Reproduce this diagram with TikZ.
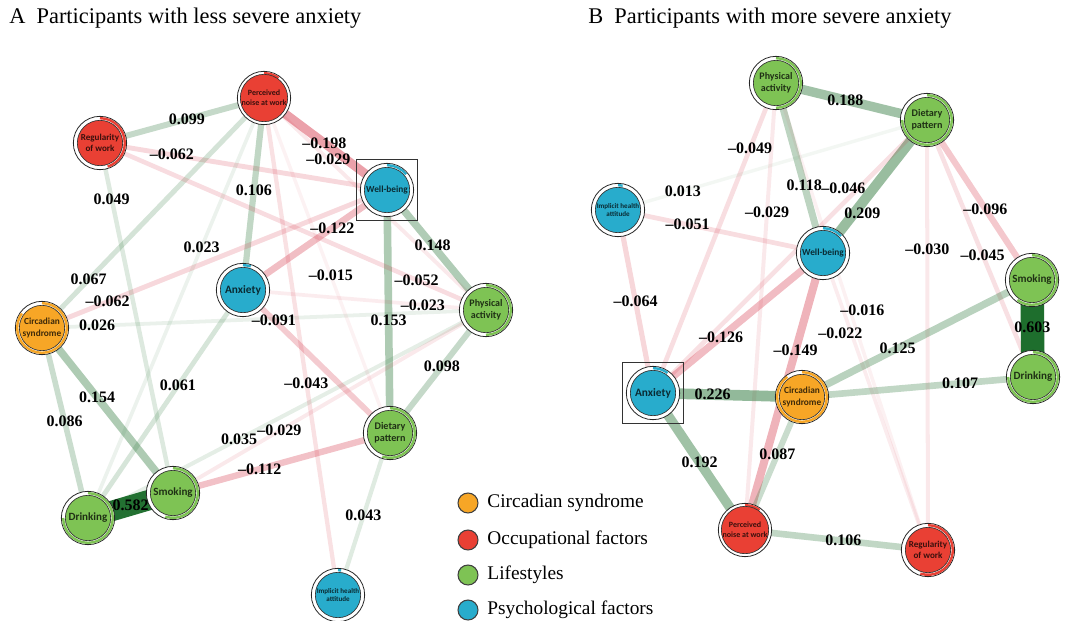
\documentclass[tikz,border=0pt]{standalone}
\usepackage{fontspec}
\setmainfont{Liberation Serif}
\newfontfamily\nodefont{Carlito}
\usetikzlibrary{positioning}

\definecolor{orangeC}{RGB}{247,166,38}
\definecolor{redC}{RGB}{233,64,52}
\definecolor{greenC}{RGB}{126,195,84}
\definecolor{blueC}{RGB}{40,172,204}
\definecolor{edgepos}{RGB}{30,110,45}
\definecolor{edgeneg}{RGB}{210,40,60}

\pgfdeclarelayer{edges}
\pgfsetlayers{edges,main}

\tikzset{
  ring/.style={circle, draw=black!85, line width=0.6pt, fill=white, minimum size=40pt, inner sep=0pt},
  core/.style={circle, draw=black!80, line width=0.5pt, minimum size=34pt, inner sep=0pt, align=center, text=black, text opacity=0.75},
  fsize/.style={font=\nodefont\bfseries\fontsize{#1}{\dimexpr #1pt*6/5\relax}\selectfont},
  elabel/.style={font=\bfseries\fontsize{12}{12}\selectfont, inner sep=0pt},
  focusbox/.style={draw=black!80, line width=1pt, minimum size=46pt, inner sep=0pt},
  legdot/.style={circle, draw=black!75, line width=0.8pt, minimum size=15pt, inner sep=0pt},
  legtext/.style={font=\fontsize{14.5}{14.5}\selectfont, inner sep=0pt},
  paneltitle/.style={font=\fontsize{16.8}{17}\selectfont, inner sep=0pt, anchor=west},
}

% node: name, position, colour, predictability, text
\newcommand{\netnode}[6][]{%
  \node[ring] (#2) at (#3) {};
  \draw[line width=1.8pt, draw=#4] (#2.center) ++(-90:18.6pt) arc[start angle=-90, delta angle=360*#5, radius=18.6pt];
  \node[core, fill=#4, fsize=7.5, #1] (#2-in) at (#2.center) {#6};
}

% edge: from, to, weight, label position
\newcommand{\edgescale}{30}
\newcommand{\netedge}[5][]{%
  \pgfmathsetmacro{\eabs}{abs(#4)}%
  \pgfmathsetmacro{\eop}{min(1,(\eabs/0.6)^0.75)}%
  \pgfmathsetmacro{\ewid}{0.75*(3+\edgescale*\eabs)}%
  \pgfmathtruncatemacro{\esign}{(#4>0)}%
  \ifnum\esign=1 \def\ecol{edgepos}\def\esym{}\else\def\ecol{edgeneg}\def\esym{–}\fi
  \begin{pgfonlayer}{edges}
    \draw[line width=\ewid pt, draw=\ecol, draw opacity=\eop] (#2.center) -- (#3.center);
  \end{pgfonlayer}
  \path (#2.center) -- (#3.center) node[elabel, pos=#5, #1] (#2#3) {\esym\pgfmathprintnumber[fixed, fixed zerofill, precision=3, assume math mode=true]{\eabs}};
}

\begin{document}
\begin{tikzpicture}[x=0.75pt,y=0.75pt,yscale=-1,xscale=1]
\useasboundingbox (0,0) rectangle (1068,621);

%Titles
\node[paneltitle] (titleA) at (9,18) {A\ \ Participants with less severe anxiety};
\node[paneltitle] (titleB) at (588,18) {B\ \ Participants with more severe anxiety};

%Panel A: nodes
\netnode[fsize=6]{PNa}{264,98}{redC}{0.1}{Perceived\\noise at work}
\netnode[fsize=6.8]{RWa}{100,143}{redC}{0.45}{Regularity\\of work}
\netnode[fsize=7]{WBa}{387,190}{blueC}{0.14}{Well-being}
\netnode[fsize=8.5]{AXa}{243,290}{blueC}{0.05}{Anxiety}
\netnode[fsize=7.5]{PAa}{486,310}{greenC}{0.5}{Physical\\activity}
\netnode[fsize=7]{CSa}{42,328}{orangeC}{0.85}{Circadian\\syndrome}
\netnode[fsize=7.6]{DPa}{390,433}{greenC}{0.55}{Dietary\\pattern}
\netnode[fsize=8.3]{SMa}{173,493}{greenC}{0.55}{Smoking}
\netnode[fsize=8.3]{DRa}{88,518}{greenC}{0.75}{Drinking}
\netnode[fsize=5.3]{IHa}{338,595}{blueC}{0.02}{Implicit health\\attitude}
\node[focusbox] (WBabox) at (WBa) {};

%Panel A: edges
\netedge{PNa}{RWa}{0.099}{0.47}
\netedge{RWa}{WBa}{-0.062}{0.25}
\netedge{RWa}{SMa}{0.049}{0.16}
\netedge{PNa}{WBa}{-0.198}{0.49}
\netedge{PNa}{PAa}{-0.029}{0.29}
\netedge{PNa}{AXa}{0.106}{0.48}
\netedge{PNa}{CSa}{0.067}{0.79}
\netedge{PNa}{DRa}{0.023}{0.355}
\netedge{WBa}{PAa}{0.148}{0.46}
\netedge{WBa}{DPa}{0.153}{0.535}
\netedge{PAa}{DPa}{0.098}{0.46}
\netedge{CSa}{SMa}{0.154}{0.42}
\netedge{CSa}{DRa}{0.086}{0.49}
\netedge{SMa}{DRa}{0.582}{0.5}
\netedge{AXa}{DRa}{0.061}{0.42}
\netedge{DRa}{PAa}{0.035}{0.38}
\netedge{DPa}{IHa}{0.043}{0.51}
\netedge{CSa}{WBa}{-0.062}{0.19}
\netedge{CSa}{PAa}{0.026}{0.124}
\netedge{AXa}{WBa}{-0.122}{0.62}
\netedge{PNa}{DPa}{-0.015}{0.53}
\netedge{RWa}{PAa}{-0.052}{0.82}
\netedge{AXa}{PAa}{-0.023}{0.74}
\netedge{AXa}{DPa}{-0.091}{0.21}
\netedge{PNa}{IHa}{-0.043}{0.574}
\netedge{SMa}{PAa}{-0.029}{0.34}
\netedge{SMa}{DPa}{-0.112}{0.40}

%Panel B: nodes
\netnode[fsize=7.5]{PAb}{776,83}{greenC}{0.5}{Physical\\activity}
\netnode[fsize=7.6]{DPb}{927,120}{greenC}{0.75}{Dietary\\pattern}
\netnode[fsize=5.3]{IHb}{618,210}{blueC}{0.03}{Implicit health\\attitude}
\netnode[fsize=7]{WBb}{823,253}{blueC}{0.13}{Well-being}
\netnode[fsize=8.3]{SMb}{1032,280}{greenC}{0.6}{Smoking}
\netnode[fsize=8.5]{AXb}{653,393}{blueC}{0.1}{Anxiety}
\netnode[fsize=7]{CSb}{802,397}{orangeC}{0.9}{Circadian\\syndrome}
\netnode[fsize=8.3]{DRb}{1033,377}{greenC}{0.75}{Drinking}
\netnode[fsize=6]{PNb}{745,530}{redC}{0.1}{Perceived\\noise at work}
\netnode[fsize=6.8]{RWb}{928,550}{redC}{0.55}{Regularity\\of work}
\node[focusbox] (AXbbox) at (AXb) {};

%Panel B: edges
\renewcommand{\edgescale}{34}
\netedge{PAb}{DPb}{0.188}{0.46}
\netedge{PAb}{WBb}{0.118}{0.60}
\netedge[shift={(5,-4)}]{DPb}{WBb}{0.209}{0.67}
\netedge[shift={(-7,8)}]{DPb}{AXb}{-0.046}{0.28}
\netedge{PAb}{AXb}{-0.049}{0.21}
\netedge{IHb}{DPb}{0.013}{0.21}
\netedge{IHb}{WBb}{-0.051}{0.34}
\netedge{PAb}{PNb}{-0.029}{0.29}
\netedge{IHb}{AXb}{-0.064}{0.50}
\netedge{DPb}{SMb}{-0.096}{0.555}
\netedge{DPb}{RWb}{-0.030}{0.30}
\netedge{DPb}{DRb}{-0.045}{0.525}
\netedge{AXb}{WBb}{-0.126}{0.40}
\netedge{WBb}{PNb}{-0.149}{0.35}
\netedge[shift={(-10,-3)}]{WBb}{RWb}{-0.022}{0.26}
\netedge[shift={(12,2)}]{PAb}{RWb}{-0.016}{0.49}
\netedge{CSb}{SMb}{0.125}{0.416}
\netedge{SMb}{DRb}{0.603}{0.485}
\netedge{CSb}{DRb}{0.107}{0.684}
\netedge{AXb}{CSb}{0.226}{0.40}
\netedge{AXb}{PNb}{0.192}{0.506}
\netedge{CSb}{PNb}{0.087}{0.43}
\netedge{PNb}{RWb}{0.106}{0.537}

%Legend
\node[legdot, fill=orangeC] (legCS) at (468,503) {};
\node[legtext, right=6.5pt of legCS] (legCSt) {Circadian syndrome};
\node[legdot, fill=redC] (legOF) at (468,540) {};
\node[legtext, right=6.5pt of legOF] (legOFt) {Occupational factors};
\node[legdot, fill=greenC] (legLS) at (468,575) {};
\node[legtext, right=6.5pt of legLS] (legLSt) {Lifestyles};
\node[legdot, fill=blueC] (legPF) at (468,610) {};
\node[legtext, right=6.5pt of legPF] (legPFt) {Psychological factors};

\end{tikzpicture}
\end{document}
